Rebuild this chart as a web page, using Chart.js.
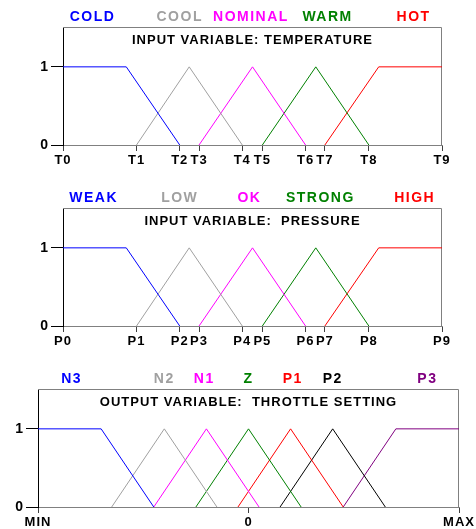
<!DOCTYPE html>
<html>
<head>
<meta charset="utf-8">
<script src="https://cdn.jsdelivr.net/npm/chart.js@4"></script>
<style>
  body { margin: 0; background: #fff; }
  canvas { position: absolute; left: 0; }
</style>
</head>
<body>
<canvas id="tempChart" width="476" height="175" style="top:0px"></canvas>
<canvas id="pressChart" width="476" height="175" style="top:181px"></canvas>
<canvas id="throttleChart" width="476" height="167" style="top:362px"></canvas>
<script>
// input variable: temperature
const tempTicks = [0, 19.4, 30.8, 35.9, 47.3, 52.6, 64.0, 69.1, 80.7, 100];
const tempTickLabels = ['T0', 'T1', 'T2', 'T3', 'T4', 'T5', 'T6', 'T7', 'T8', 'T9'];
const tempSets = ['COLD', 'COOL', 'NOMINAL', 'WARM', 'HOT'];
const tempSetX = [[0, 16.7, 30.8], [19.4, 33.3, 47.3], [35.9, 50, 64.0], [52.6, 66.7, 80.7], [69.1, 83.3, 100]];
const tempSetY = [[1, 1, 0], [0, 1, 0], [0, 1, 0], [0, 1, 0], [0, 1, 1]];

// input variable: pressure
const pressTicks = [0, 19.4, 30.8, 35.9, 47.3, 52.6, 64.0, 69.1, 80.7, 100];
const pressTickLabels = ['P0', 'P1', 'P2', 'P3', 'P4', 'P5', 'P6', 'P7', 'P8', 'P9'];
const pressSets = ['WEAK', 'LOW', 'OK', 'STRONG', 'HIGH'];
const pressSetX = [[0, 16.7, 30.8], [19.4, 33.3, 47.3], [35.9, 50, 64.0], [52.6, 66.7, 80.7], [69.1, 83.3, 100]];
const pressSetY = [[1, 1, 0], [0, 1, 0], [0, 1, 0], [0, 1, 0], [0, 1, 1]];

// output variable: throttle setting
const throttleTicks = [-1, 0, 1];
const throttleTickLabels = ['MIN', '0', 'MAX'];
const throttleSets = ['N3', 'N2', 'N1', 'Z', 'P1', 'P2', 'P3'];
const throttleSetX = [[-1, -0.7, -0.45], [-0.65, -0.4, -0.15], [-0.45, -0.2, 0.05], [-0.25, 0, 0.25],
                      [-0.05, 0.2, 0.45], [0.15, 0.4, 0.65], [0.45, 0.7, 1]];
const throttleSetY = [[1, 1, 0], [0, 1, 0], [0, 1, 0], [0, 1, 0], [0, 1, 0], [0, 1, 0], [0, 1, 1]];

const fiveColors = ['#0000ff', '#a0a0a0', '#ff00ff', '#008000', '#ff0000'];
const sevenColors = ['#0000ff', '#a0a0a0', '#ff00ff', '#008000', '#ff0000', '#000000', '#800080'];
const FAMILY = '"Liberation Sans", Arial, sans-serif';

// draws the box, the set names above it and the title inside
const fuzzyText = {
    id: 'fuzzyText',
    beforeDraw(chart) {
        chart.ctx.letterSpacing = '1px';
    },
    beforeDatasetsDraw(chart) {
        const { ctx, chartArea: a } = chart;
        ctx.save();
        ctx.strokeStyle = '#808080';
        ctx.lineWidth = 1;
        ctx.beginPath();
        ctx.moveTo(a.left, a.top + 0.5);
        ctx.lineTo(a.right - 0.5, a.top + 0.5);
        ctx.lineTo(a.right - 0.5, a.bottom);
        ctx.stroke();
        ctx.restore();
    },
    afterDraw(chart, args, opts) {
        const { ctx, chartArea: a } = chart;
        const x = chart.scales.x;
        ctx.save();
        ctx.font = 'bold 14px ' + FAMILY;
        ctx.letterSpacing = '1.5px';
        ctx.textAlign = 'center';
        ctx.textBaseline = 'middle';
        opts.names.forEach((name, i) => {
            ctx.fillStyle = opts.colors[i];
            ctx.fillText(name, x.getPixelForValue(opts.at[i]), a.top - 10);
        });
        ctx.font = 'bold 13px ' + FAMILY;
        ctx.letterSpacing = '1px';
        ctx.fillStyle = '#000';
        ctx.fillText(opts.title, (a.left + a.right) / 2, a.top + 13);
        ctx.restore();
    }
};

function makeChart(id, cfg) {
    const ctx = document.getElementById(id).getContext('2d');
    return new Chart(ctx, {
        type: 'line',
        data: {
            datasets: cfg.names.map((name, i) => ({
                label: name,
                data: cfg.xs[i].map((v, j) => ({ x: v, y: cfg.ys[i][j] })),
                borderColor: cfg.colors[i],
                borderWidth: 1,
                pointRadius: 0,
                tension: 0,
                fill: false
            }))
        },
        options: {
            responsive: false,
            animation: false,
            devicePixelRatio: 1,
            layout: { padding: { top: 27, right: cfg.right, left: 0, bottom: 0 } },
            plugins: {
                legend: { display: false },
                tooltip: { enabled: false },
                fuzzyText: { names: cfg.names, colors: cfg.colors, at: cfg.labelAt, title: cfg.title }
            },
            scales: {
                x: {
                    type: 'linear',
                    min: cfg.min,
                    max: cfg.max,
                    afterBuildTicks: s => { s.ticks = cfg.ticks.map(v => ({ value: v })); },
                    afterFit: s => { s.height = cfg.bottom; s.paddingLeft = 0; s.paddingRight = 0; },
                    ticks: {
                        autoSkip: false,
                        maxRotation: 0,
                        padding: 2,
                        color: '#000',
                        font: { family: FAMILY, size: 13, weight: 'bold' },
                        callback: (v, i) => cfg.tickLabels[i]
                    },
                    grid: { drawOnChartArea: false, tickLength: 6, color: '#404040' },
                    border: { color: '#808080', width: 1 }
                },
                y: {
                    min: 0,
                    max: 1.51,
                    afterBuildTicks: s => { s.ticks = [{ value: 0 }, { value: 1 }]; },
                    afterFit: s => { s.width = cfg.left; s.paddingTop = 0; s.paddingBottom = 0; },
                    ticks: {
                        padding: 2,
                        color: '#000',
                        font: { family: FAMILY, size: 14, weight: 'bold' },
                        callback: v => String(v)
                    },
                    grid: { drawOnChartArea: false, tickLength: 12, color: '#000' },
                    border: { color: '#000', width: 1 }
                }
            }
        },
        plugins: [fuzzyText]
    });
}

makeChart('tempChart', {
    names: tempSets, xs: tempSetX, ys: tempSetY, colors: fiveColors,
    ticks: tempTicks, tickLabels: tempTickLabels, min: 0, max: 100,
    labelAt: [7.8, 30.8, 49.6, 69.8, 92.5],
    title: 'INPUT VARIABLE: TEMPERATURE',
    left: 63, right: 34, bottom: 30
});

makeChart('pressChart', {
    names: pressSets, xs: pressSetX, ys: pressSetY, colors: fiveColors,
    ticks: pressTicks, tickLabels: pressTickLabels, min: 0, max: 100,
    labelAt: [8.1, 30.8, 49.2, 67.9, 92.8],
    title: 'INPUT VARIABLE:  PRESSURE',
    left: 63, right: 34, bottom: 30
});

makeChart('throttleChart', {
    names: throttleSets, xs: throttleSetX, ys: throttleSetY, colors: sevenColors,
    ticks: throttleTicks, tickLabels: throttleTickLabels, min: -1, max: 1,
    labelAt: [-0.84, -0.4, -0.21, 0, 0.21, 0.4, 0.85],
    title: 'OUTPUT VARIABLE:  THROTTLE SETTING',
    left: 38, right: 17, bottom: 22
});
</script>
</body>
</html>
